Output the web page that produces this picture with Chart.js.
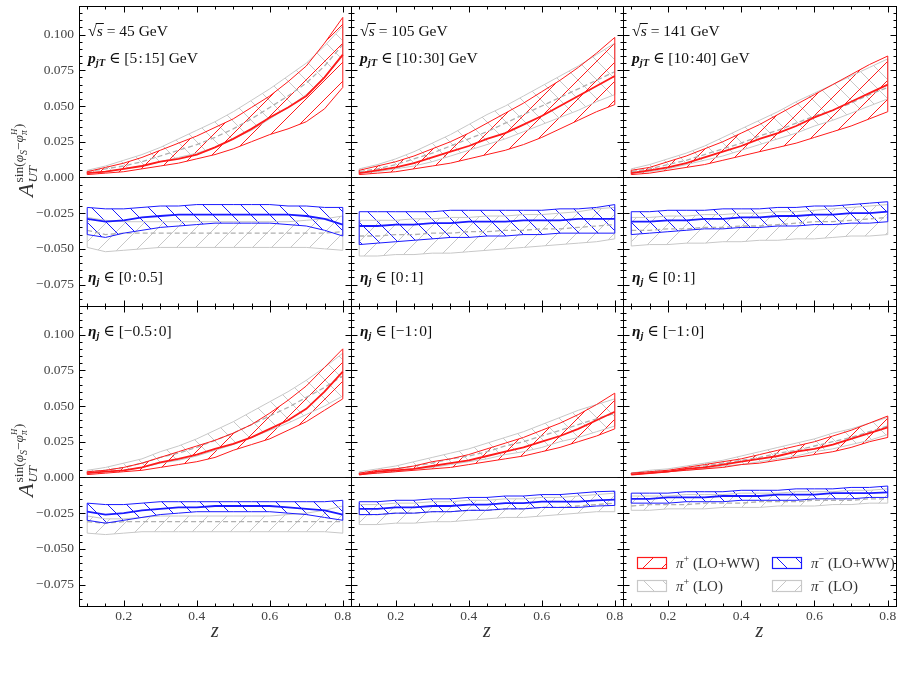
<!DOCTYPE html>
<html>
<head>
<meta charset="utf-8">
<script src="https://cdn.jsdelivr.net/npm/chart.js@4.4.1/dist/chart.umd.min.js"></script>
<style>
  body { margin: 0; background: #fff; }
  #page { position: relative; width: 904px; height: 673px; overflow: hidden; }
  #page canvas { position: absolute; }
</style>
</head>
<body>
<div id="page"></div>
<script>
// z grid shared by every curve
const z = [0.1, 0.15, 0.2, 0.25, 0.3, 0.35, 0.4, 0.45, 0.5, 0.55, 0.6, 0.65, 0.7, 0.75, 0.8];

// sqrt(s) = 45 GeV, eta in [0:0.5]
const p45u_pipWW_hi  = [.004, .007, .010, .014, .019, .024, .029, .035, .041, .049, .057, .067, .078, .094, .112];
const p45u_pipWW_mid = [.003, .004, .006, .008, .011, .013, .016, .021, .027, .034, .042, .049, .057, .070, .086];
const p45u_pipWW_lo  = [.002, .003, .004, .006, .008, .010, .013, .016, .020, .025, .030, .034, .039, .048, .063];
const p45u_pipLO_hi  = [.005, .008, .012, .016, .021, .027, .033, .039, .046, .054, .062, .071, .080, .092, .106];
const p45u_pipLO_mid = [.004, .006, .008, .011, .015, .019, .023, .028, .034, .041, .049, .057, .066, .078, .093];
const p45u_pipLO_lo  = [.003, .004, .006, .008, .011, .014, .017, .021, .027, .033, .041, .049, .058, .070, .085];
const p45u_pimWW_hi  = [-.021, -.022, -.022, -.021, -.020, -.020, -.019, -.019, -.019, -.019, -.019, -.020, -.020, -.021, -.021];
const p45u_pimWW_mid = [-.029, -.031, -.030, -.028, -.027, -.026, -.026, -.026, -.026, -.026, -.026, -.026, -.027, -.029, -.033];
const p45u_pimWW_lo  = [-.040, -.042, -.039, -.037, -.035, -.034, -.033, -.032, -.032, -.032, -.032, -.033, -.034, -.037, -.041];
const p45u_pimLO_hi  = [-.028, -.030, -.031, -.031, -.031, -.031, -.031, -.031, -.031, -.031, -.031, -.031, -.030, -.029, -.027];
const p45u_pimLO_mid = [-.037, -.040, -.039, -.039, -.039, -.039, -.039, -.039, -.039, -.039, -.039, -.039, -.039, -.039, -.038];
const p45u_pimLO_lo  = [-.049, -.052, -.051, -.050, -.049, -.049, -.049, -.049, -.049, -.049, -.049, -.049, -.049, -.050, -.051];

// sqrt(s) = 105 GeV, eta in [0:1]
const p105u_pipWW_hi  = [.005, .008, .011, .015, .020, .025, .031, .038, .045, .052, .060, .068, .077, .087, .098];
const p105u_pipWW_mid = [.003, .005, .007, .010, .014, .018, .022, .027, .031, .037, .043, .050, .057, .064, .071];
const p105u_pipWW_lo  = [.002, .003, .004, .006, .008, .010, .013, .016, .019, .023, .028, .034, .040, .046, .051];
const p105u_pipLO_hi  = [.006, .009, .013, .018, .024, .030, .037, .044, .050, .057, .064, .071, .078, .086, .094];
const p105u_pipLO_mid = [.004, .006, .009, .013, .017, .022, .027, .032, .038, .044, .050, .056, .062, .068, .074];
const p105u_pipLO_lo  = [.003, .004, .006, .008, .011, .015, .019, .023, .027, .032, .037, .042, .047, .053, .058];
const p105u_pimWW_hi  = [-.024, -.024, -.024, -.024, -.024, -.023, -.023, -.023, -.023, -.023, -.023, -.022, -.022, -.021, -.019];
const p105u_pimWW_mid = [-.034, -.034, -.033, -.033, -.032, -.032, -.031, -.031, -.031, -.030, -.030, -.030, -.029, -.029, -.029];
const p105u_pimWW_lo  = [-.047, -.046, -.045, -.044, -.043, -.042, -.042, -.041, -.041, -.040, -.040, -.039, -.039, -.039, -.039];
const p105u_pimLO_hi  = [-.030, -.030, -.030, -.029, -.029, -.028, -.028, -.027, -.027, -.026, -.026, -.025, -.024, -.022, -.021];
const p105u_pimLO_mid = [-.041, -.041, -.040, -.040, -.039, -.039, -.038, -.038, -.037, -.037, -.036, -.036, -.035, -.034, -.033];
const p105u_pimLO_lo  = [-.055, -.055, -.054, -.054, -.053, -.053, -.052, -.051, -.050, -.049, -.048, -.047, -.046, -.045, -.043];

// sqrt(s) = 141 GeV, eta in [0:1]
const p141u_pipWW_hi  = [.005, .007, .011, .015, .020, .025, .031, .037, .044, .051, .058, .065, .072, .079, .085];
const p141u_pipWW_mid = [.003, .005, .007, .010, .014, .018, .022, .027, .031, .036, .042, .047, .053, .059, .065];
const p141u_pipWW_lo  = [.002, .003, .005, .007, .009, .012, .015, .018, .021, .024, .028, .032, .036, .041, .046];
const p141u_pipLO_hi  = [.006, .009, .013, .017, .022, .028, .034, .040, .046, .053, .059, .065, .071, .077, .083];
const p141u_pipLO_mid = [.004, .006, .009, .012, .016, .020, .024, .029, .033, .038, .043, .047, .052, .058, .063];
const p141u_pipLO_lo  = [.003, .004, .006, .009, .012, .015, .019, .023, .027, .031, .036, .040, .045, .050, .055];
const p141u_pimWW_hi  = [-.024, -.024, -.023, -.023, -.023, -.022, -.022, -.022, -.021, -.021, -.020, -.020, -.019, -.018, -.017];
const p141u_pimWW_mid = [-.031, -.031, -.030, -.030, -.029, -.029, -.028, -.028, -.027, -.027, -.026, -.026, -.025, -.025, -.024];
const p141u_pimWW_lo  = [-.040, -.039, -.038, -.037, -.036, -.036, -.035, -.035, -.034, -.034, -.033, -.033, -.032, -.032, -.031];
const p141u_pimLO_hi  = [-.028, -.028, -.027, -.027, -.026, -.026, -.025, -.025, -.024, -.024, -.023, -.022, -.021, -.020, -.019];
const p141u_pimLO_mid = [-.037, -.037, -.036, -.036, -.035, -.035, -.034, -.034, -.033, -.032, -.031, -.031, -.030, -.029, -.028];
const p141u_pimLO_lo  = [-.048, -.047, -.047, -.046, -.046, -.045, -.045, -.044, -.044, -.043, -.043, -.042, -.041, -.041, -.040];

// sqrt(s) = 45 GeV, eta in [-0.5:0]
const p45d_pipWW_hi  = [.004, .005, .007, .010, .014, .018, .022, .026, .031, .037, .045, .054, .064, .077, .090];
const p45d_pipWW_mid = [.003, .004, .005, .007, .0105, .013, .016, .020, .0235, .028, .034, .040, .048, .060, .074];
const p45d_pipWW_lo  = [.002, .003, .004, .005, .007, .009, .011, .014, .019, .023, .027, .033, .039, .047, .055];
const p45d_pipLO_hi  = [.005, .007, .010, .013, .018, .022, .027, .033, .039, .046, .053, .060, .068, .077, .087];
const p45d_pipLO_mid = [.004, .005, .007, .010, .014, .017, .021, .026, .031, .037, .043, .049, .056, .063, .071];
const p45d_pipLO_lo  = [.003, .004, .005, .007, .010, .012, .015, .019, .023, .028, .033, .038, .044, .050, .057];
const p45d_pimWW_hi  = [-.018, -.019, -.019, -.018, -.017, -.017, -.017, -.017, -.017, -.017, -.017, -.017, -.017, -.017, -.016];
const p45d_pimWW_mid = [-.024, -.026, -.025, -.023, -.022, -.021, -.021, -.020, -.020, -.020, -.020, -.021, -.022, -.023, -.026];
const p45d_pimWW_lo  = [-.030, -.032, -.030, -.028, -.026, -.025, -.024, -.024, -.024, -.024, -.024, -.025, -.026, -.028, -.030];
const p45d_pimLO_hi  = [-.027, -.029, -.029, -.028, -.027, -.027, -.027, -.027, -.027, -.027, -.027, -.026, -.025, -.023, -.020];
const p45d_pimLO_mid = [-.031, -.032, -.031, -.031, -.031, -.031, -.031, -.031, -.031, -.031, -.031, -.031, -.031, -.031, -.031];
const p45d_pimLO_lo  = [-.039, -.040, -.039, -.038, -.038, -.038, -.038, -.038, -.038, -.038, -.038, -.038, -.038, -.038, -.039];

// sqrt(s) = 105 GeV, eta in [-1:0]
const p105d_pipWW_hi  = [.003, .005, .006, .008, .011, .013, .016, .020, .024, .028, .033, .038, .044, .051, .059];
const p105d_pipWW_mid = [.002, .004, .005, .006, .008, .010, .012, .015, .018, .021, .025, .029, .034, .040, .046];
const p105d_pipWW_lo  = [.002, .003, .004, .005, .006, .007, .009, .011, .013, .015, .018, .021, .025, .029, .034];
const p105d_pipLO_hi  = [.004, .006, .008, .011, .014, .017, .020, .024, .028, .032, .037, .042, .047, .051, .055];
const p105d_pipLO_mid = [.003, .004, .006, .008, .010, .013, .015, .018, .022, .025, .029, .033, .037, .041, .045];
const p105d_pipLO_lo  = [.002, .003, .004, .006, .007, .009, .011, .013, .016, .018, .021, .025, .028, .032, .036];
const p105d_pimWW_hi  = [-.017, -.017, -.016, -.016, -.015, -.015, -.014, -.014, -.013, -.013, -.012, -.012, -.011, -.010, -.0096];
const p105d_pimWW_mid = [-.022, -.022, -.021, -.021, -.020, -.020, -.019, -.019, -.018, -.018, -.017, -.017, -.017, -.016, -.0156];
const p105d_pimWW_lo  = [-.026, -.026, -.025, -.025, -.024, -.024, -.023, -.023, -.022, -.022, -.021, -.021, -.021, -.020, -.0196];
const p105d_pimLO_hi  = [-.019, -.019, -.018, -.018, -.017, -.017, -.016, -.016, -.015, -.015, -.014, -.014, -.013, -.012, -.011];
const p105d_pimLO_mid = [-.026, -.026, -.025, -.025, -.024, -.024, -.023, -.023, -.022, -.022, -.021, -.021, -.020, -.019, -.018];
const p105d_pimLO_lo  = [-.033, -.033, -.032, -.032, -.031, -.031, -.030, -.029, -.028, -.028, -.027, -.026, -.025, -.024, -.024];

// sqrt(s) = 141 GeV, eta in [-1:0]
const p141d_pipWW_hi  = [.003, .004, .005, .007, .009, .011, .013, .016, .019, .022, .025, .029, .033, .038, .043];
const p141d_pipWW_mid = [.002, .003, .004, .006, .007, .009, .011, .013, .015, .018, .020, .023, .027, .031, .035];
const p141d_pipWW_lo  = [.002, .003, .004, .005, .006, .007, .009, .010, .012, .014, .016, .018, .021, .025, .028];
const p141d_pipLO_hi  = [.003, .005, .006, .008, .010, .012, .015, .018, .021, .024, .027, .031, .034, .038, .042];
const p141d_pipLO_mid = [.003, .004, .005, .006, .008, .010, .012, .014, .017, .019, .022, .025, .028, .032, .036];
const p141d_pipLO_lo  = [.002, .003, .004, .005, .006, .008, .009, .011, .013, .015, .018, .020, .023, .026, .030];
const p141d_pimWW_hi  = [-.011, -.011, -.011, -.010, -.010, -.010, -.009, -.009, -.009, -.008, -.008, -.008, -.007, -.007, -.006];
const p141d_pimWW_mid = [-.015, -.015, -.014, -.014, -.014, -.013, -.013, -.013, -.012, -.012, -.012, -.011, -.011, -.011, -.0105];
const p141d_pimWW_lo  = [-.018, -.018, -.018, -.017, -.017, -.017, -.016, -.016, -.016, -.016, -.015, -.015, -.015, -.014, -.014];
const p141d_pimLO_hi  = [-.013, -.013, -.013, -.012, -.012, -.012, -.011, -.011, -.011, -.010, -.010, -.010, -.009, -.009, -.008];
const p141d_pimLO_mid = [-.020, -.019, -.019, -.019, -.018, -.018, -.018, -.017, -.017, -.017, -.016, -.016, -.016, -.015, -.015];
const p141d_pimLO_lo  = [-.023, -.023, -.022, -.022, -.022, -.021, -.021, -.021, -.020, -.020, -.020, -.019, -.019, -.018, -.018];

// axes and annotations
const yMajor = [-0.075, -0.05, -0.025, 0, 0.025, 0.05, 0.075, 0.1];
const yTickLabels = ['\u22120.075', '\u22120.050', '\u22120.025', '0.000', '0.025', '0.050', '0.075', '0.100'];
const xMajor = [0.2, 0.4, 0.6, 0.8];
const xMinor = [0.1, 0.15, 0.25, 0.3, 0.35, 0.45, 0.5, 0.55, 0.65, 0.7, 0.75];
const xTickLabels = ['0.2', '0.4', '0.6', '0.8'];
const energies = ['45', '105', '141'];
const ptRanges = ['[5\u200A:\u200A15]', '[10\u200A:\u200A30]', '[10\u200A:\u200A40]'];
const etaTop = ['[0\u200A:\u200A0.5]', '[0\u200A:\u200A1]', '[0\u200A:\u200A1]'];
const etaBot = ['[\u22120.5\u200A:\u200A0]', '[\u22121\u200A:\u200A0]', '[\u22121\u200A:\u200A0]'];

const panels = [
  { col: 0, row: 0, pipWW: [p45u_pipWW_lo, p45u_pipWW_mid, p45u_pipWW_hi], pipLO: [p45u_pipLO_lo, p45u_pipLO_mid, p45u_pipLO_hi], pimWW: [p45u_pimWW_lo, p45u_pimWW_mid, p45u_pimWW_hi], pimLO: [p45u_pimLO_lo, p45u_pimLO_mid, p45u_pimLO_hi] },
  { col: 1, row: 0, pipWW: [p105u_pipWW_lo, p105u_pipWW_mid, p105u_pipWW_hi], pipLO: [p105u_pipLO_lo, p105u_pipLO_mid, p105u_pipLO_hi], pimWW: [p105u_pimWW_lo, p105u_pimWW_mid, p105u_pimWW_hi], pimLO: [p105u_pimLO_lo, p105u_pimLO_mid, p105u_pimLO_hi] },
  { col: 2, row: 0, pipWW: [p141u_pipWW_lo, p141u_pipWW_mid, p141u_pipWW_hi], pipLO: [p141u_pipLO_lo, p141u_pipLO_mid, p141u_pipLO_hi], pimWW: [p141u_pimWW_lo, p141u_pimWW_mid, p141u_pimWW_hi], pimLO: [p141u_pimLO_lo, p141u_pimLO_mid, p141u_pimLO_hi] },
  { col: 0, row: 1, pipWW: [p45d_pipWW_lo, p45d_pipWW_mid, p45d_pipWW_hi], pipLO: [p45d_pipLO_lo, p45d_pipLO_mid, p45d_pipLO_hi], pimWW: [p45d_pimWW_lo, p45d_pimWW_mid, p45d_pimWW_hi], pimLO: [p45d_pimLO_lo, p45d_pimLO_mid, p45d_pimLO_hi] },
  { col: 1, row: 1, pipWW: [p105d_pipWW_lo, p105d_pipWW_mid, p105d_pipWW_hi], pipLO: [p105d_pipLO_lo, p105d_pipLO_mid, p105d_pipLO_hi], pimWW: [p105d_pimWW_lo, p105d_pimWW_mid, p105d_pimWW_hi], pimLO: [p105d_pimLO_lo, p105d_pimLO_mid, p105d_pimLO_hi] },
  { col: 2, row: 1, pipWW: [p141d_pipWW_lo, p141d_pipWW_mid, p141d_pipWW_hi], pipLO: [p141d_pipLO_lo, p141d_pipLO_mid, p141d_pipLO_hi], pimWW: [p141d_pimWW_lo, p141d_pimWW_mid, p141d_pimWW_hi], pimLO: [p141d_pimLO_lo, p141d_pimLO_mid, p141d_pimLO_hi] },
];

// layout of the grid (page pixels)
const colX = [79, 351, 623, 896];
const rowY = [6, 306, 606];
const PAD = 75;
const STEP = 19;

const RED = '#ff1a1a', BLUE = '#1a1aff', GREY = '#c8c8c8';
const SERIF = '"Liberation Serif", "DejaVu Serif", serif';
const f = (size, style = '') => `${style} ${size}px ${SERIF}`;

// stroke hatch lines inside the current clip: '/' is x+y=c, '\' is x-y=c
function hatchLines(ctx, box, dir, color) {
  ctx.strokeStyle = color; ctx.lineWidth = 1;
  ctx.beginPath();
  const h = box.b - box.t;
  for (let c = Math.floor((box.l - h) / STEP) * STEP; c <= box.r + h; c += STEP) {
    if (dir === '/') { ctx.moveTo(c, box.b); ctx.lineTo(c + h, box.t); }
    else { ctx.moveTo(c, box.t); ctx.lineTo(c + h, box.b); }
  }
  ctx.stroke();
}

const pts = arr => z.map((x, i) => ({ x, y: arr[i] }));

// four datasets per band: lower edge, upper edge, end caps, central curve
function band([lo, mid, hi], color, midColor, midWidth, dash, order) {
  const n = z.length - 1;
  return [
    { data: pts(lo), borderColor: color, borderWidth: 1, order },
    { data: pts(hi), borderColor: color, borderWidth: 1, order },
    { data: [{ x: z[0], y: lo[0] }, { x: z[0], y: hi[0] }, { x: 0.45, y: null }, { x: z[n], y: lo[n] }, { x: z[n], y: hi[n] }],
      borderColor: color, borderWidth: 1, spanGaps: false, order },
    { data: pts(mid), borderColor: midColor, borderWidth: midWidth, borderDash: dash, order: order - 1 },
  ];
}

// hatched area between two datasets, drawn from the points the chart placed
const hatchFill = {
  id: 'hatchFill',
  beforeDatasetsDraw(chart, args, o) {
    const { ctx, chartArea: a } = chart;
    for (const b of o.bands) {
      const lo = chart.getDatasetMeta(b.lo).data, hi = chart.getDatasetMeta(b.hi).data;
      ctx.save();
      ctx.beginPath(); ctx.rect(a.left, a.top, a.right - a.left, a.bottom - a.top); ctx.clip();
      ctx.beginPath();
      lo.forEach((p, i) => (i ? ctx.lineTo(p.x, p.y) : ctx.moveTo(p.x, p.y)));
      for (let i = hi.length - 1; i >= 0; i--) ctx.lineTo(hi[i].x, hi[i].y);
      ctx.closePath();
      ctx.clip();
      hatchLines(ctx, { l: a.left, r: a.right, t: a.top, b: a.bottom }, b.dir, b.color);
      ctx.restore();
    }
  },
};

function segs(ctx, x, y, list) {
  for (const [t, font, dy] of list) {
    ctx.font = font;
    ctx.fillText(t, x, y + (dy || 0));
    x += ctx.measureText(t).width;
  }
  return x;
}

const deco = {
  id: 'deco',
  beforeDatasetsDraw(chart) {
    const { ctx, chartArea: a, scales: { y } } = chart;
    const y0 = Math.round(y.getPixelForValue(0)) + 0.5;
    ctx.save();
    ctx.strokeStyle = '#111'; ctx.lineWidth = 1;
    ctx.beginPath(); ctx.moveTo(a.left, y0); ctx.lineTo(a.right, y0); ctx.stroke();
    ctx.restore();
  },
  afterDraw(chart, args, o) {
    const { ctx, chartArea: a, scales: { x, y } } = chart;
    const L = a.left + 0.5, R = a.right + 0.5, T = a.top + 0.5, B = a.bottom + 0.5;
    ctx.save();
    ctx.strokeStyle = '#000'; ctx.lineWidth = 1;
    ctx.strokeRect(L, T, R - L, B - T);
    ctx.beginPath();
    for (let k = -17; k <= 23; k++) {
      const py = Math.round(y.getPixelForValue(k * 0.005)) + 0.5;
      const len = k % 5 === 0 ? 6 : 3;
      ctx.moveTo(L, py); ctx.lineTo(L + len, py);
      ctx.moveTo(R, py); ctx.lineTo(R - len, py);
    }
    for (const v of xMajor.concat(xMinor)) {
      const px = Math.round(x.getPixelForValue(v)) + 0.5;
      const len = xMajor.includes(v) ? 6 : 3;
      ctx.moveTo(px, B); ctx.lineTo(px, B - len);
      ctx.moveTo(px, T); ctx.lineTo(px, T + len);
    }
    ctx.stroke();

    ctx.fillStyle = '#444';
    if (o.col === 0) {
      ctx.font = f(13.5);
      ctx.textAlign = 'right'; ctx.textBaseline = 'middle';
      yMajor.forEach((v, i) => ctx.fillText(yTickLabels[i], a.left - 5, y.getPixelForValue(v)));
      // y axis title, A_UT^{sin(phi_S - phi_pi^H)}
      ctx.save();
      ctx.translate(a.left - 46, a.top + 191);
      ctx.rotate(-Math.PI / 2);
      ctx.textAlign = 'left'; ctx.textBaseline = 'alphabetic';
      ctx.fillStyle = '#333';
      const xa = segs(ctx, 0, 0, [['A', f(22, 'italic')]]) + 1;
      segs(ctx, xa, 4, [['UT', f(13, 'italic')]]);
      let px = segs(ctx, xa, -10, [['sin(', f(13.5)], ['\u03c6', f(13.5, 'italic')]]);
      px = segs(ctx, px, -6, [['S', f(9.5, 'italic')]]);
      px = segs(ctx, px, -10, [['\u2212', f(13.5)], ['\u03c6', f(13.5, 'italic')]]);
      const pz = segs(ctx, px, -6, [['\u03c0', f(9.5, 'italic')]]);
      const ph = segs(ctx, px, -16, [['H', f(8.5, 'italic')]]);
      segs(ctx, Math.max(pz, ph) + 0.5, -10, [[')', f(13.5)]]);
      ctx.restore();
    }
    if (o.row === 1) {
      ctx.font = f(13.5);
      ctx.textAlign = 'center'; ctx.textBaseline = 'middle';
      xMajor.forEach((v, i) => ctx.fillText(xTickLabels[i], x.getPixelForValue(v), a.bottom + 10));
      ctx.fillStyle = '#333';
      ctx.textBaseline = 'alphabetic';
      ctx.font = f(20, 'italic');
      ctx.fillText('z', (a.left + a.right) / 2, a.bottom + 31);
    }

    // panel notes
    ctx.fillStyle = '#111';
    ctx.textAlign = 'left'; ctx.textBaseline = 'alphabetic';
    const tx = a.left + 9;
    if (o.row === 0) {
      const x1 = segs(ctx, tx, a.top + 30, [['\u221a', f(16)]]);
      const x2 = segs(ctx, x1, a.top + 30, [['s', f(15.5, 'italic')]]);
      ctx.fillRect(x1 - 1, a.top + 17, x2 - x1 + 2, 1);
      segs(ctx, x2, a.top + 30, [[' = ' + energies[o.col] + ' GeV', f(15.5)]]);
      segs(ctx, tx, a.top + 57, [
        ['p', f(15.5, 'italic bold')], ['jT', f(10.5, 'italic bold'), 3],
        [' \u2208 ' + ptRanges[o.col] + ' GeV', f(15.5)],
      ]);
      segs(ctx, tx, a.top + 276, [
        ['\u03b7', f(15.5, 'italic bold')], ['j', f(10.5, 'italic bold'), 3],
        [' \u2208 ' + etaTop[o.col], f(15.5)],
      ]);
    } else {
      segs(ctx, tx, a.top + 30, [
        ['\u03b7', f(15.5, 'italic bold')], ['j', f(10.5, 'italic bold'), 3],
        [' \u2208 ' + etaBot[o.col], f(15.5)],
      ]);
    }

    // legend in the last panel
    if (o.col === 2 && o.row === 1) {
      const items = [
        { dx: 14, dy: 251, dir: '/', col: RED, sign: '+', txt: ' (LO+WW)' },
        { dx: 149, dy: 251, dir: '\\', col: BLUE, sign: '\u2212', txt: ' (LO+WW)' },
        { dx: 14, dy: 274, dir: '\\', col: GREY, sign: '+', txt: ' (LO)' },
        { dx: 149, dy: 274, dir: '/', col: GREY, sign: '\u2212', txt: ' (LO)' },
      ];
      for (const it of items) {
        const bx = a.left + it.dx, by = a.top + it.dy;
        ctx.save();
        ctx.beginPath(); ctx.rect(bx, by, 29, 11); ctx.clip();
        hatchLines(ctx, { l: bx, r: bx + 29, t: by, b: by + 11 }, it.dir, it.col);
        ctx.restore();
        ctx.strokeStyle = it.col; ctx.lineWidth = 1.2;
        ctx.strokeRect(bx + 0.5, by + 0.5, 29, 11);
        ctx.fillStyle = '#333';
        segs(ctx, bx + 39, by + 11, [['\u03c0', f(15, 'italic')], [it.sign, f(10), -6], [it.txt, f(15)]]);
      }
    }
    ctx.restore();
  },
};

const page = document.getElementById('page');
for (const p of panels) {
  const w = colX[p.col + 1] - colX[p.col], h = rowY[p.row + 1] - rowY[p.row];
  const cv = document.createElement('canvas');
  cv.width = w + 2 * PAD; cv.height = h + 2 * PAD;
  cv.style.left = (colX[p.col] - PAD) + 'px';
  cv.style.top = (rowY[p.row] - PAD) + 'px';
  page.appendChild(cv);

  // dataset index layout: pi+ WW 0-3, pi- WW 4-7, pi+ LO 8-11, pi- LO 12-15
  const datasets = [
    ...band(p.pipWW, RED, RED, 1.8, [], 2),
    ...band(p.pimWW, BLUE, BLUE, 1.8, [], 2),
    ...band(p.pipLO, GREY, '#b0b0b0', 1.3, [5, 3], 5),
    ...band(p.pimLO, GREY, '#b0b0b0', 1.3, [5, 3], 5),
  ];

  new Chart(cv, {
    type: 'line',
    data: { datasets },
    options: {
      responsive: false,
      animation: false,
      layout: { padding: PAD },
      elements: { point: { radius: 0 }, line: { tension: 0, fill: false } },
      scales: {
        x: { type: 'linear', min: 0.0775, max: 0.8225, display: false },
        y: { type: 'linear', min: -0.09, max: 0.12, display: false },
      },
      plugins: {
        legend: { display: false },
        tooltip: { enabled: false },
        hatchFill: { bands: [
          { lo: 8, hi: 9, dir: '\\', color: GREY }, { lo: 12, hi: 13, dir: '/', color: GREY },
          { lo: 0, hi: 1, dir: '/', color: RED }, { lo: 4, hi: 5, dir: '\\', color: BLUE },
        ] },
        deco: { col: p.col, row: p.row },
      },
    },
    plugins: [hatchFill, deco],
  });
}
</script>
</body>
</html>
